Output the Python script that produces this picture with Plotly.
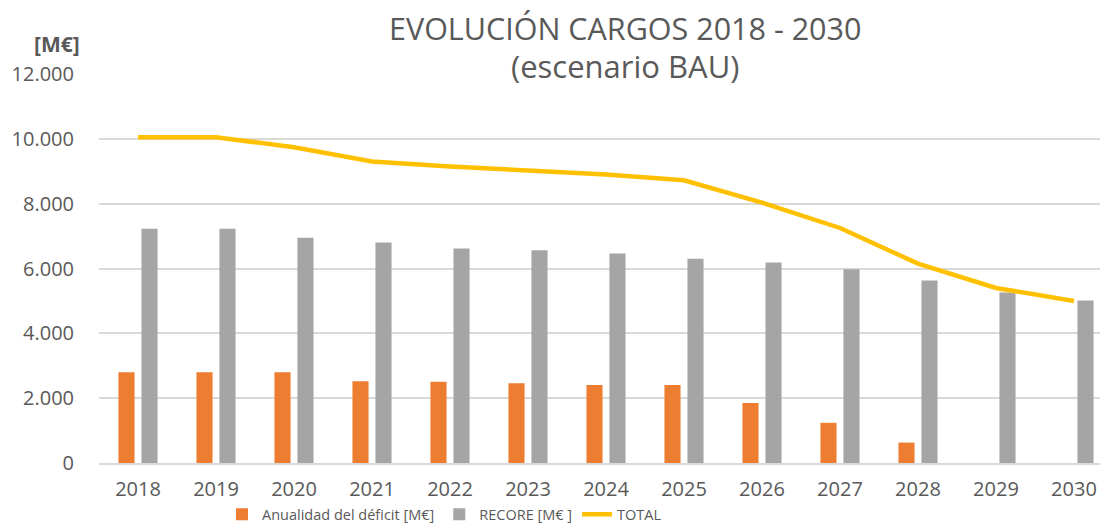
import plotly.graph_objects as go

years = ["2018", "2019", "2020", "2021", "2022", "2023", "2024",
         "2025", "2026", "2027", "2028", "2029", "2030"]
anualidad = [2800, 2800, 2800, 2520, 2510, 2460, 2410, 2410, 1850, 1240, 630, None, None]
recore = [7230, 7230, 6950, 6800, 6615, 6565, 6460, 6300, 6185, 5980, 5630, 5260, 5015]
total = [10050, 10050, 9740, 9300, 9150, 9020, 8900, 8720, 8030, 7250, 6150, 5400, 5000]
y_ticks = [0, 2000, 4000, 6000, 8000, 10000, 12000]
y_labels = ["0", "2.000", "4.000", "6.000", "8.000", "10.000", "12.000"]

TXT = "#595959"
FONT = "Open Sans"

# page body has an 8px default margin -> figure drawn 8px right/down
W, H = 1100, 517
L, T = 91, 66
PB = 454.7  # plot bottom in figure px
PH = PB - T
PW = W - L


def px(x):
    return (x - 8 - L) / PW


def py(y):
    return (PB - (y - 8)) / PH


fig = go.Figure()
fig.add_trace(go.Bar(x=years, y=anualidad, name="Anualidad del déficit [M€]",
                     marker=dict(color="#ED7D31", line=dict(width=0))))
fig.add_trace(go.Bar(x=years, y=recore, name="RECORE [M€ ]",
                     marker=dict(color="#A5A5A5", line=dict(width=0))))
fig.add_trace(go.Scatter(x=years, y=total, name="TOTAL", mode="lines",
                         line=dict(color="#FFC000", width=4.5)))

fig.update_layout(
    width=W, height=H,
    margin=dict(l=L, r=0, t=T, b=H - PB, autoexpand=False),
    paper_bgcolor="white", plot_bgcolor="white",
    barmode="group", bargap=0.41, bargroupgap=0.30,
    font=dict(family=FONT, color=TXT),
    showlegend=True,
    legend=dict(orientation="h", x=px(222), xanchor="left", y=py(514), yanchor="middle",
                font=dict(size=14.5, color=TXT, family=FONT), itemwidth=30,
                bgcolor="rgba(0,0,0,0)"),
    xaxis=dict(type="category", range=[-0.5, 12.436], showgrid=False,
               showline=True, linecolor="#D9D9D9", linewidth=1.5, ticks="",
               ticklabelstandoff=7,
               tickfont=dict(size=20, color=TXT, family=FONT), fixedrange=True),
    yaxis=dict(range=[0, 12000], tickvals=y_ticks, ticktext=y_labels,
               showgrid=True, gridcolor="#D9D9D9", gridwidth=1.5, zeroline=False,
               showline=False, ticks="", ticklabelstandoff=24,
               tickfont=dict(size=20, color=TXT, family=FONT), fixedrange=True),
    annotations=[
        dict(text="EVOLUCIÓN CARGOS 2018 - 2030", xref="paper", yref="paper",
             x=px(625), y=py(28), xanchor="center", yanchor="middle",
             showarrow=False, font=dict(size=30.5, color=TXT, family=FONT)),
        dict(text="(escenario BAU)", xref="paper", yref="paper",
             x=px(625), y=py(66), xanchor="center", yanchor="middle",
             showarrow=False, font=dict(size=31, color=TXT, family=FONT)),
        dict(text="<b>[M€]</b>", xref="paper", yref="paper",
             x=px(57), y=py(44), xanchor="center", yanchor="middle",
             showarrow=False, font=dict(size=21, color=TXT, family=FONT)),
    ],
)

fig.write_html("out.html")
